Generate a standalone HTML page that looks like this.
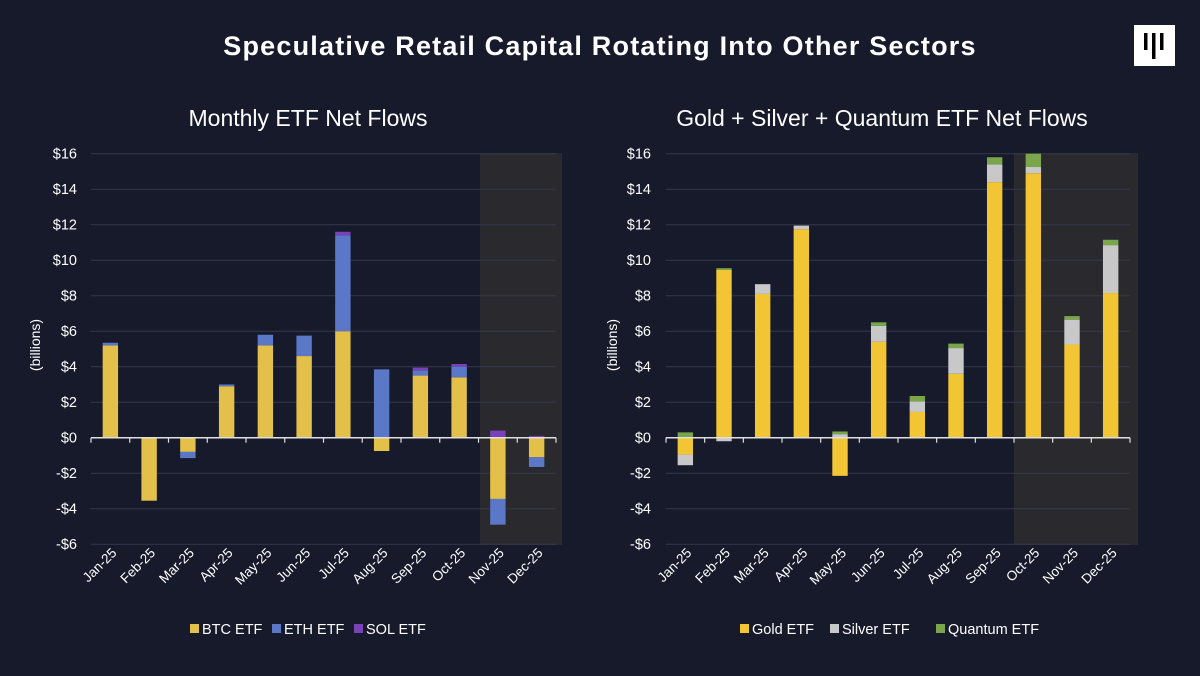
<!DOCTYPE html>
<html><head><meta charset="utf-8"><style>
html,body{margin:0;padding:0;background:#161a2b;}
svg{display:block;font-family:"Liberation Sans",sans-serif;}
</style></head><body>
<svg id="s" width="1200" height="676" xmlns="http://www.w3.org/2000/svg">
<rect width="1200" height="676" fill="#161a2b"/>
<text x="600" y="55" fill="#fff" font-size="27" font-weight="bold" letter-spacing="1.2" text-anchor="middle">Speculative Retail Capital Rotating Into Other Sectors</text>
<rect x="1134" y="25" width="41" height="41" fill="#fff"/>
<rect x="1144" y="33" width="3.5" height="17" fill="#000"/>
<rect x="1152" y="33" width="3.5" height="26" fill="#000"/>
<rect x="1160" y="33" width="3.5" height="17" fill="#000"/>
<text x="308" y="126" fill="#fff" font-size="23" text-anchor="middle">Monthly ETF Net Flows</text>
<text x="882" y="126" fill="#fff" font-size="23" text-anchor="middle">Gold + Silver + Quantum ETF Net Flows</text>
<g id="g"></g>
</svg>
<script>
const g=document.getElementById('g');const NS='http://www.w3.org/2000/svg';
function el(t,a,txt){const e=document.createElementNS(NS,t);for(const k in a)e.setAttribute(k,a[k]);if(txt!==undefined)e.textContent=txt;g.appendChild(e);return e;}
const months=['Jan-25','Feb-25','Mar-25','Apr-25','May-25','Jun-25','Jul-25','Aug-25','Sep-25','Oct-25','Nov-25','Dec-25'];
const y0=437.7,u=17.75;
function Y(v){return y0-v*u;}
function chart(x0,x1,shade,data,colors,legend,legX,ylabX,tickX){
  el('rect',{x:shade[0],y:153,width:shade[1]-shade[0],height:392,fill:'#2a2a2e'});
  for(let v=-6;v<=16;v+=2){
    if(v!==0)el('line',{x1:x0,x2:x1,y1:Y(v),y2:Y(v),stroke:'#34374a','stroke-width':1});
    el('text',{x:tickX,y:Y(v)+5,fill:'#fff','font-size':14.5,'text-anchor':'end'},(v<0?'-$':'$')+Math.abs(v));
  }
  el('text',{x:0,y:0,fill:'#fff','font-size':14,'text-anchor':'middle',transform:`translate(${ylabX},345) rotate(-90)`},'(billions)');
  const bw=(x1-x0)/12;
  data.forEach((d,i)=>{
    const cx=x0+bw*(i+0.5);let pos=0,neg=0;
    d.forEach((v,j)=>{
      if(v>=0){el('rect',{x:cx-7.7,y:Y(pos+v),width:15.4,height:v*u,fill:colors[j]});pos+=v;}
      else{el('rect',{x:cx-7.7,y:Y(neg),width:15.4,height:-v*u,fill:colors[j]});neg+=v;}
    });
    el('text',{x:0,y:0,fill:'#fff','font-size':13.5,'text-anchor':'end',transform:`translate(${cx+7},${y0+116}) rotate(-45)`},months[i]);
  });
  el('line',{x1:x0,x2:x1,y1:y0,y2:y0,stroke:'#e0e0e0','stroke-width':1.5});
  for(let i=0;i<=12;i++)el('line',{x1:x0+bw*i,x2:x0+bw*i,y1:y0,y2:y0+5,stroke:'#e0e0e0','stroke-width':1.2});
  let lx=legX;
  legend.forEach((t,j)=>{
    el('rect',{x:lx,y:624,width:9,height:9,fill:colors[j]});
    el('text',{x:lx+12,y:634,fill:'#fff','font-size':14.5},t);
    lx+=12+t.length*8+14;
  });
}
chart(91,556,[480,562],[
[5.2,0.15,0],[-3.55,0,0],[-0.8,-0.35,0],[2.9,0.1,0],[5.2,0.6,0],[4.6,1.15,0],[6.0,5.4,0.2],[-0.75,3.85,0],[3.5,0.3,0.15],[3.4,0.6,0.15],[-3.45,-1.45,0.4],[-1.1,-0.55,0.1]
],['#e3c04a','#5b78c8','#7a42b8'],['BTC ETF','ETH ETF','SOL ETF'],190,40,77);
chart(666,1130,[1014,1138],[
[-0.95,-0.6,0.3],[9.45,-0.2,0.1],[8.1,0.55,0],[11.75,0.2,0],[-2.15,0.2,0.15],[5.4,0.9,0.2],[1.45,0.6,0.3],[3.6,1.45,0.25],[14.4,1.0,0.4],[14.9,0.35,0.75],[5.25,1.4,0.2],[8.15,2.7,0.3]
],['#f2c535','#c8c8c8','#79a64a'],['Gold ETF','Silver ETF','Quantum ETF'],740,617,651);
</script>
</body></html>
